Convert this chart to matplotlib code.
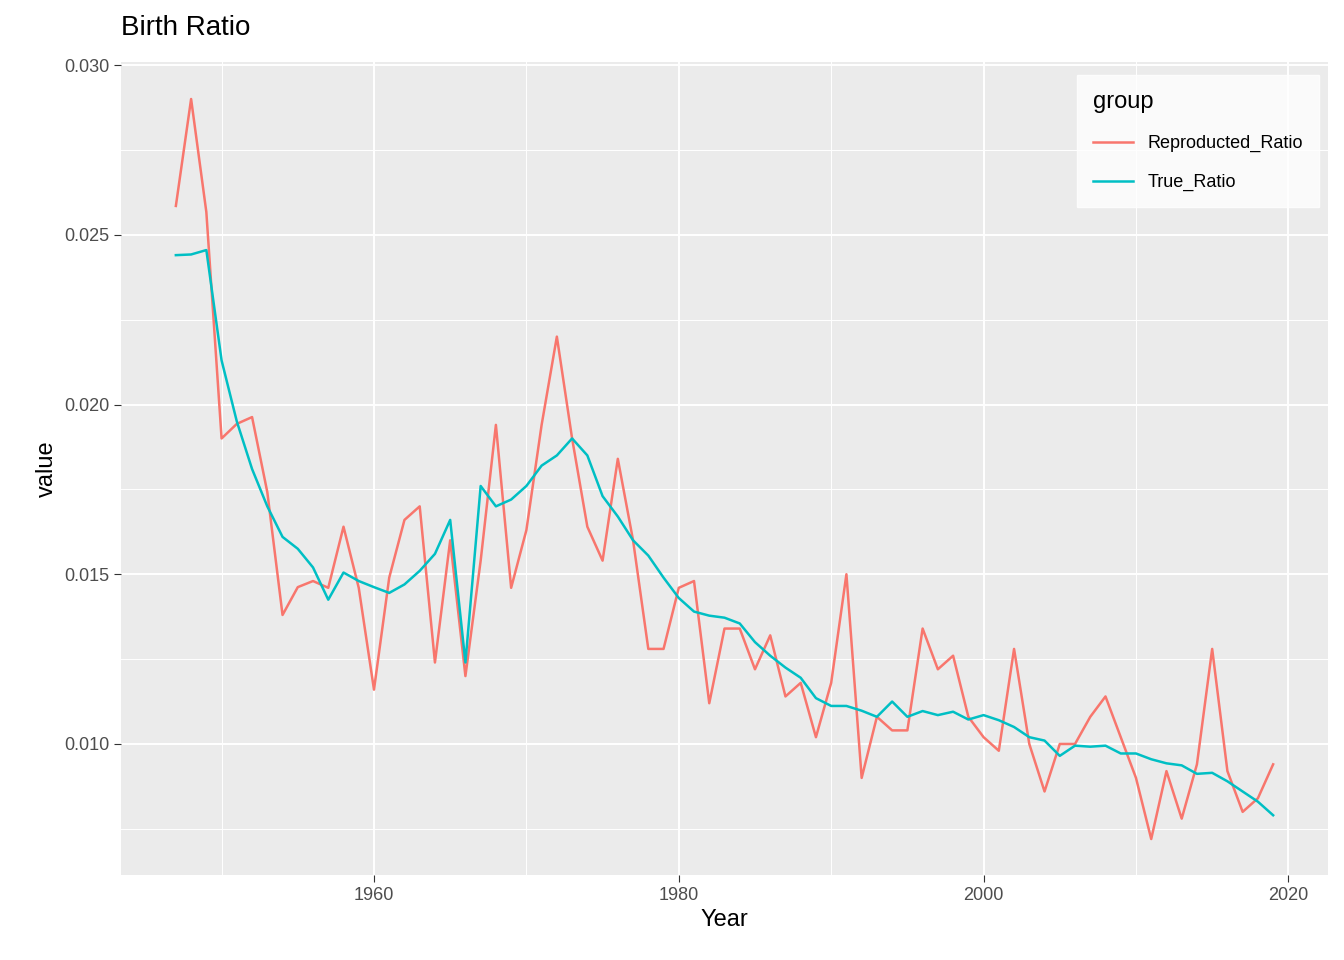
import matplotlib
matplotlib.use("Agg")
import matplotlib.pyplot as plt
import numpy as np

years = list(range(1947, 2020))
reproducted = [0.02585,0.0290,0.02567,0.0190,0.01943,0.01963,0.01742,0.0138,0.01462,0.0148,0.0146,0.0164,0.0146,0.0116,0.0149,0.0166,0.0170,0.0124,0.0160,0.0120,0.0154,0.0194,0.0146,0.0163,0.0194,0.0220,0.0190,0.0164,0.0154,0.0184,0.0160,0.0128,0.0128,0.0146,0.0148,0.0112,0.0134,0.0134,0.0122,0.0132,0.0114,0.0118,0.0102,0.0118,0.0150,0.0090,0.0108,0.0104,0.0104,0.0134,0.0122,0.0126,0.0108,0.0102,0.0098,0.0128,0.0100,0.0086,0.0100,0.0100,0.0108,0.0114,0.0102,0.0090,0.0072,0.0092,0.0078,0.0094,0.0128,0.0092,0.0080,0.0084,0.0094]
true_ratio = [0.0244,0.02442,0.02455,0.0213,0.0195,0.0181,0.0170,0.0161,0.01575,0.0152,0.01425,0.01505,0.0148,0.01462,0.01445,0.0147,0.0151,0.0156,0.0166,0.0124,0.0176,0.0170,0.0172,0.0176,0.0182,0.0185,0.0190,0.0185,0.0173,0.0167,0.0160,0.01555,0.0149,0.0143,0.0139,0.01378,0.01372,0.01355,0.0130,0.0126,0.01225,0.01195,0.01135,0.01112,0.01112,0.01098,0.0108,0.01125,0.0108,0.01097,0.01085,0.01095,0.01072,0.01085,0.0107,0.0105,0.0102,0.0101,0.00965,0.00995,0.00992,0.00995,0.00972,0.00972,0.00955,0.00943,0.00937,0.00912,0.00915,0.0089,0.0086,0.0083,0.0079]

plt.rcParams['font.family'] = ['Liberation Sans', 'DejaVu Sans']
fig = plt.figure(figsize=(13.44, 9.6), dpi=100)
ax = fig.add_axes([121/1344, 1-875/960, (1328-121)/1344, (875-62)/960])
ax.set_facecolor('#EBEBEB')
ax.set_xlim(1943.4, 2022.6)
ax.set_ylim(0.00614, 0.03009)
ax.set_xticks([1960, 1980, 2000, 2020])
ax.set_xticks([1950, 1970, 1990, 2010], minor=True)
yt = [0.010, 0.015, 0.020, 0.025, 0.030]
ax.set_yticks(yt)
ax.set_yticklabels([f"{v:.3f}" for v in yt])
ax.set_yticks([0.0075, 0.0125, 0.0175, 0.0225, 0.0275], minor=True)
ax.grid(which='major', color='white', lw=1.4)
ax.grid(which='minor', color='white', lw=0.7)
ax.set_axisbelow(True)
for s in ax.spines.values():
    s.set_visible(False)
ax.tick_params(which='major', length=5, color='#333333', labelsize=13, labelcolor='#4D4D4D')
ax.tick_params(which='minor', length=0)
ax.plot(years, reproducted, color='#F8766D', lw=1.8, label='Reproducted_Ratio')
ax.plot(years, true_ratio, color='#00BFC4', lw=1.8, label='True_Ratio')
ax.set_xlabel('Year', fontsize=17)
ax.set_ylabel('value', fontsize=17)
fig.text(121/1344, 1-28/960, 'Birth Ratio', fontsize=20, va='center')
leg = ax.legend(title='group', loc='upper right', bbox_to_anchor=(1.0, 0.995), fontsize=13,
                title_fontsize=17, frameon=True, fancybox=False, facecolor='white',
                edgecolor='white', handlelength=2.2, borderpad=0.9, labelspacing=1.2)
leg._legend_box.align = 'left'
fig.savefig('out.png', dpi=100)
